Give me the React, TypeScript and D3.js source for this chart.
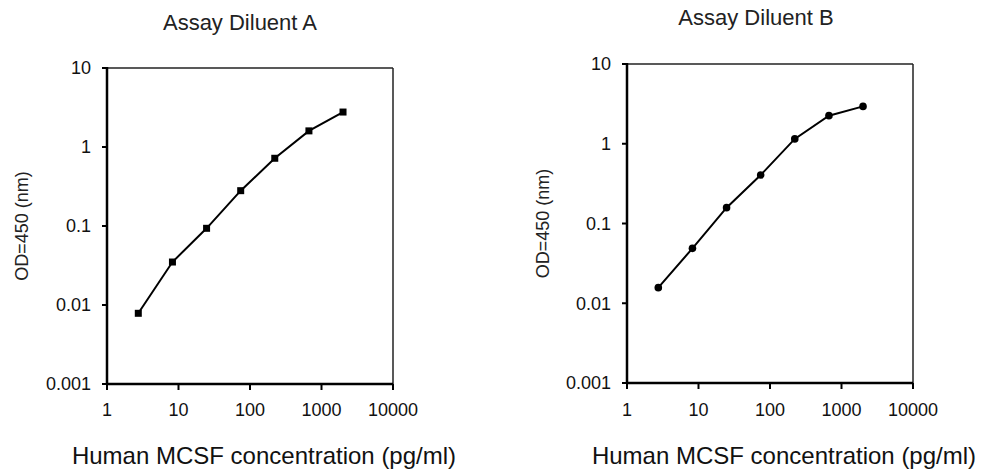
import React from "react";
import * as d3 from "d3";

const concentrations = [2.74, 8.23, 24.7, 74.1, 222, 667, 2000];
const diluentA = [0.00785, 0.035, 0.0935, 0.28, 0.72, 1.6, 2.77];
const diluentB = [0.0157, 0.0488, 0.158, 0.406, 1.15, 2.25, 2.94];
const xTicks = [1, 10, 100, 1000, 10000];
const yTicks = [0.001, 0.01, 0.1, 1, 10];
const xTickLabels = ["1", "10", "100", "1000", "10000"];
const yTickLabels = ["0.001", "0.01", "0.1", "1", "10"];

const FONT = "'Liberation Sans', Arial, Helvetica, sans-serif";

type PanelProps = {
  title: string;
  values: number[];
  marker: "square" | "circle";
  left: number;
  right: number;
  top: number;
  bottom: number;
  titleX: number;
  titleY: number;
  xTitleX: number;
  yLabelX: number;
  yLabelY: number;
};

function Panel(p: PanelProps) {
  const x = d3.scaleLog().domain([1, 10000]).range([p.left, p.right]);
  const y = d3.scaleLog().domain([0.001, 10]).range([p.bottom, p.top]);
  const pts: [number, number][] = concentrations.map((c, i) => [x(c), y(p.values[i])]);
  const line = d3.line()(pts) || "";
  return (
    <g>
      <text x={p.titleX} y={p.titleY} textAnchor="middle" fontSize={22} fill="#222" fontFamily={FONT}>
        {p.title}
      </text>
      {/* frame */}
      <line x1={p.left} x2={p.right} y1={p.top} y2={p.top} stroke="#222" strokeWidth={1.5} />
      <line x1={p.right} x2={p.right} y1={p.top} y2={p.bottom} stroke="#222" strokeWidth={1.5} />
      <line x1={p.left} x2={p.left} y1={p.top - 1} y2={p.bottom + 1} stroke="#000" strokeWidth={2.5} />
      <line x1={p.left - 1} x2={p.right} y1={p.bottom} y2={p.bottom} stroke="#000" strokeWidth={2.5} />
      {yTicks.map((t, i) => (
        <g key={"y" + i}>
          <line x1={p.left - 5} x2={p.left} y1={y(t)} y2={y(t)} stroke="#000" strokeWidth={2} />
          <text x={p.left - 16} y={y(t)} dy="0.35em" textAnchor="end" fontSize={18} fill="#111" fontFamily={FONT}>
            {yTickLabels[i]}
          </text>
        </g>
      ))}
      {xTicks.map((t, i) => (
        <g key={"x" + i}>
          <line x1={x(t)} x2={x(t)} y1={p.bottom} y2={p.bottom + 6} stroke="#000" strokeWidth={2} />
          <text x={x(t)} y={416} textAnchor="middle" fontSize={18} fill="#111" fontFamily={FONT}>
            {xTickLabels[i]}
          </text>
        </g>
      ))}
      <path d={line} fill="none" stroke="#000" strokeWidth={2} />
      {pts.map((q, i) =>
        p.marker === "square" ? (
          <rect key={"m" + i} x={q[0] - 3.5} y={q[1] - 3.5} width={7} height={7} fill="#000" />
        ) : (
          <circle key={"m" + i} cx={q[0]} cy={q[1]} r={3.8} fill="#000" />
        )
      )}
      <text
        transform={`translate(${p.yLabelX},${p.yLabelY}) rotate(-90)`}
        textAnchor="middle"
        fontSize={18}
        fill="#222"
        fontFamily={FONT}
      >
        OD=450 (nm)
      </text>
      <text x={p.xTitleX} y={464} textAnchor="middle" fontSize={24} fill="#111" fontFamily={FONT}>
        Human MCSF concentration (pg/ml)
      </text>
    </g>
  );
}

export default function App() {
  return (
    <svg
      width={989}
      height={472}
      style={{ position: "absolute", left: 0, top: 0, background: "#fff" }}
    >
      <rect width={989} height={472} fill="#fff" />
      <Panel
        title="Assay Diluent A"
        values={diluentA}
        marker="square"
        left={107}
        right={393}
        top={68}
        bottom={384}
        titleX={240}
        titleY={30}
        xTitleX={264}
        yLabelX={27.5}
        yLabelY={226}
      />
      <Panel
        title="Assay Diluent B"
        values={diluentB}
        marker="circle"
        left={627}
        right={913}
        top={64}
        bottom={383}
        titleX={756}
        titleY={25}
        xTitleX={784}
        yLabelX={549}
        yLabelY={223.5}
      />
    </svg>
  );
}
